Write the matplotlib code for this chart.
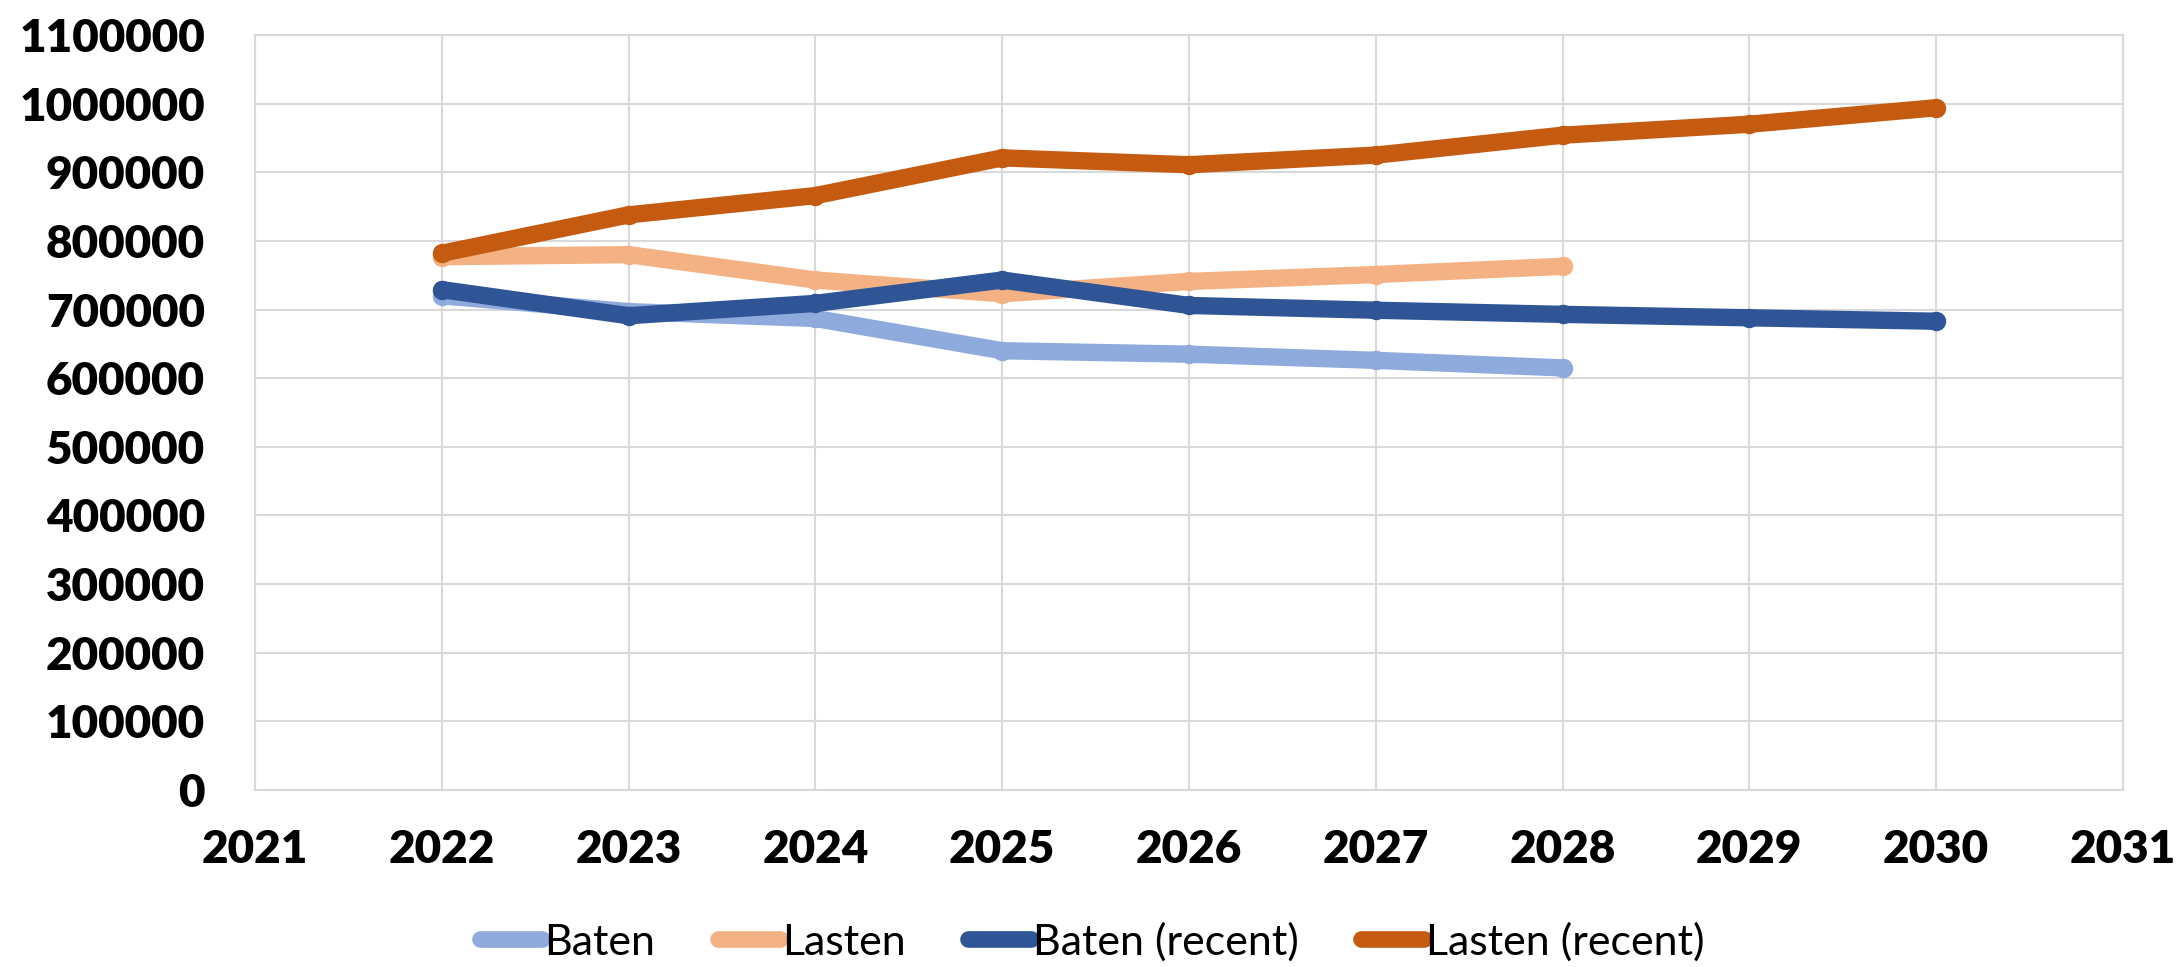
import matplotlib
matplotlib.use("Agg")
import matplotlib.pyplot as plt
from matplotlib.ticker import MultipleLocator, FuncFormatter

# Data
years_short = [2022, 2023, 2024, 2025, 2026, 2027, 2028]
years_long = [2022, 2023, 2024, 2025, 2026, 2027, 2028, 2029, 2030]

baten = [720000, 697000, 687000, 640000, 635000, 626000, 615000]
lasten = [777000, 780000, 743000, 723000, 741000, 751000, 763000]
baten_recent = [729000, 691000, 709000, 743000, 706000, 699000, 693000, 688000, 683000]
lasten_recent = [782000, 838000, 866000, 921000, 911000, 925000, 954000, 970000, 994000]

series = [
    ("Baten", years_short, baten, "#8FAADC"),
    ("Lasten", years_short, lasten, "#F4B183"),
    ("Baten (recent)", years_long, baten_recent, "#2F5597"),
    ("Lasten (recent)", years_long, lasten_recent, "#C55A11"),
]

fig = plt.figure(figsize=(21.84, 9.67), dpi=100)
ax = fig.add_axes([0.1168, 0.183, 0.8552, 0.7808])

for label, xs, ys, color in series:
    ax.plot(xs, ys, color=color, linewidth=12.5, solid_capstyle="round",
            solid_joinstyle="round", marker="o", markersize=14,
            markeredgewidth=0, label=label)

ax.set_xlim(2021, 2031)
ax.set_ylim(0, 1100000)
ax.xaxis.set_major_locator(MultipleLocator(1))
ax.yaxis.set_major_locator(MultipleLocator(100000))
ax.yaxis.set_major_formatter(FuncFormatter(lambda v, p: f"{int(round(v))}"))
ax.xaxis.set_major_formatter(FuncFormatter(lambda v, p: f"{int(round(v))}"))

grid_color = "#D9D9D9"
ax.grid(True, color=grid_color, linewidth=1.5)
ax.set_axisbelow(True)
for s in ax.spines.values():
    s.set_color(grid_color)
    s.set_linewidth(1.5)

ax.tick_params(axis="both", length=0)
ax.tick_params(axis="y", pad=36)
ax.tick_params(axis="x", pad=28)
for lbl in ax.get_xticklabels() + ax.get_yticklabels():
    lbl.set_fontfamily("Lato")
    lbl.set_fontweight("heavy")
    lbl.set_fontsize(33)

leg = fig.legend(loc="center", bbox_to_anchor=(0.5, 0.026), ncol=4,
                 frameon=False, prop={"family": "Lato", "size": 31},
                 handlelength=1.45, handletextpad=0.05, columnspacing=1.45)
for h in leg.get_lines():
    h.set_linewidth(12)
    h.set_markersize(6)

fig.savefig("out.png", dpi=100)
